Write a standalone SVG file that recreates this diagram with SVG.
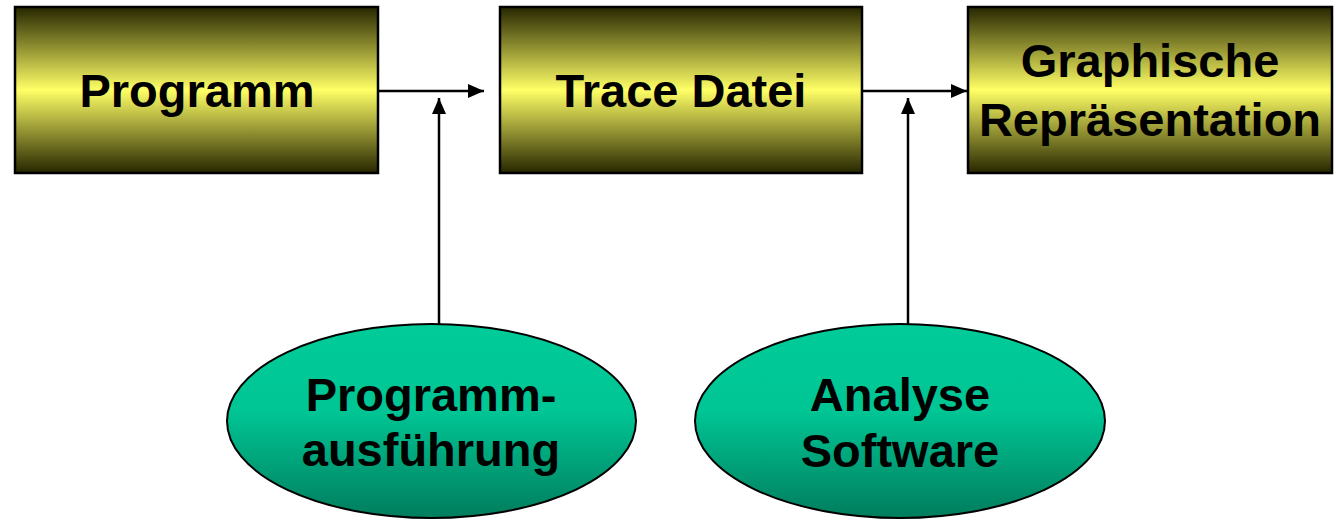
<svg xmlns="http://www.w3.org/2000/svg" width="1336" height="521" viewBox="0 0 1336 521">
  <defs>
    <!-- olive-to-yellow band used on the rectangular stages -->
    <linearGradient id="boxFill" x1="0" y1="0" x2="0" y2="1">
      <stop offset="0" stop-color="#262600"/>
      <stop offset="0.5" stop-color="#ffff66"/>
      <stop offset="1" stop-color="#262600"/>
    </linearGradient>
    <!-- teal fill for the tool ellipses -->
    <linearGradient id="ovalFill" x1="0" y1="0" x2="0" y2="1">
      <stop offset="0" stop-color="#00cc99"/>
      <stop offset="0.45" stop-color="#00c594"/>
      <stop offset="1" stop-color="#007d5d"/>
    </linearGradient>
    <marker id="arrow" markerUnits="userSpaceOnUse" markerWidth="17" markerHeight="15" refX="16" refY="7" orient="auto">
      <path d="M0,0 L16,7 L0,14 z" fill="#000"/>
    </marker>
  </defs>
  <style>
    .box { fill: url(#boxFill); stroke: #000; stroke-width: 2.5; }
    .oval { fill: url(#ovalFill); stroke: #000; stroke-width: 2; }
    .label { font-family: "Liberation Sans", Arial, Helvetica, sans-serif; font-weight: bold; font-size: 47px; fill: #000; text-anchor: middle; }
    .link { stroke: #000; stroke-width: 2.5; fill: none; marker-end: url(#arrow); }
  </style>

  <rect width="1336" height="521" fill="#fff"/>

  <g id="connectors">
    <line class="link" x1="379" y1="91" x2="484" y2="91"/>
    <line class="link" x1="439" y1="324" x2="439" y2="98"/>
    <line class="link" x1="863" y1="91" x2="967" y2="91"/>
    <line class="link" x1="908" y1="324" x2="908" y2="98"/>
  </g>

  <g id="programm">
    <rect class="box" x="15" y="7" width="363" height="166"/>
    <text class="label" x="197" y="107">Programm</text>
  </g>

  <g id="trace-datei">
    <rect class="box" x="500" y="7" width="362" height="166"/>
    <text class="label" x="681" y="107">Trace Datei</text>
  </g>

  <g id="graphische-repraesentation">
    <rect class="box" x="968" y="7" width="364" height="166"/>
    <text class="label" x="1150" y="77">Graphische</text>
    <text class="label" x="1150" y="136">Repräsentation</text>
  </g>

  <g id="programmausfuehrung">
    <ellipse class="oval" cx="431.5" cy="421" rx="204.5" ry="97"/>
    <text class="label" x="431" y="411">Programm-</text>
    <text class="label" x="431" y="466">ausführung</text>
  </g>

  <g id="analyse-software">
    <ellipse class="oval" cx="900" cy="421" rx="205" ry="97"/>
    <text class="label" x="900" y="411">Analyse</text>
    <text class="label" x="900" y="467">Software</text>
  </g>
</svg>
